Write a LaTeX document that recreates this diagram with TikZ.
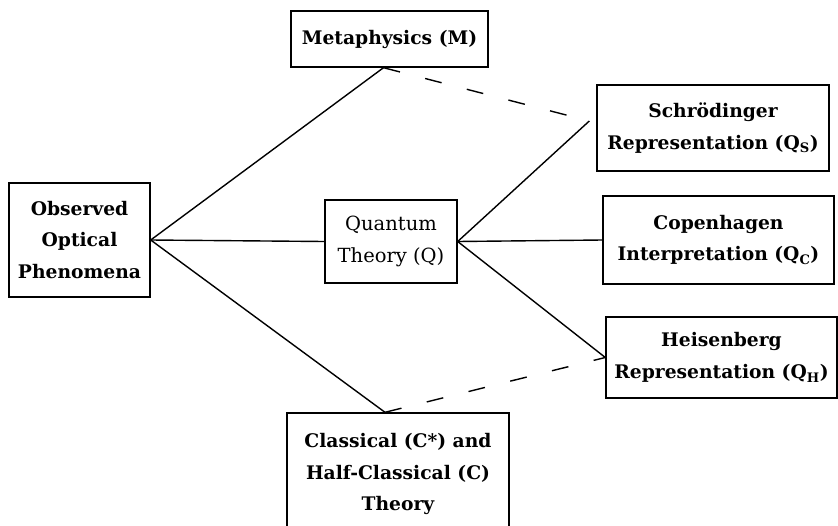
\documentclass[tikz,border=0pt]{standalone}
\usepackage{fontspec}
\setmainfont{DejaVu Serif}
\begin{document}
\begin{tikzpicture}[x=1pt,y=-1pt,
  box/.style={draw,line width=1.4pt,align=center,inner sep=0pt,font=\fontsize{18.7}{31.5}\selectfont\bfseries},
  conn/.style={line width=1.4pt},
  dconn/.style={line width=1.4pt,dash pattern=on 17pt off 26pt}]
\useasboundingbox (0,0) rectangle (838,525);
\begin{scope}
\clip (0,0) rectangle (838,525);
\node[box,minimum width=141pt,minimum height=114pt] (obs) at (79.5,240) {Observed\\Optical\\Phenomena};
\node[box,minimum width=197pt,minimum height=56pt] (meta) at (389.5,39) {Metaphysics (M)};
\node[box,minimum width=132pt,minimum height=83pt,font=\fontsize{19.5}{31.5}\selectfont] (quant) at (391,241.5) {Quantum\\Theory (Q)};
\node[box,minimum width=232pt,minimum height=86pt] (schr) at (713,128) {Schrödinger\\Representation (Q\textsubscript{S})};
\node[box,minimum width=231pt,minimum height=88pt] (cop) at (718.5,240) {Copenhagen\\Interpretation (Q\textsubscript{C})};
\node[box,minimum width=231pt,minimum height=81pt] (heis) at (721.5,357.5) {Heisenberg\\Representation (Q\textsubscript{H})};
\node[box,minimum width=222pt,minimum height=122pt] (class) at (398,474) {Classical (C*) and\\Half-Classical (C)\\Theory};
\end{scope}
\coordinate (mJ) at ([xshift=-6pt]meta.south);
\coordinate (sJ) at ([shift={(-7pt,7pt)}]schr.west);
\coordinate (cJ) at ([xshift=-13pt]class.north);
\draw[conn] (obs.east) -- (mJ);
\draw[conn] (obs.east) -- (quant.west);
\draw[conn] (obs.east) -- (cJ);
\draw[dconn] (mJ) -- (sJ);
\draw[conn] (quant.east) -- (sJ);
\draw[conn] (quant.east) -- (cop.west);
\draw[conn] (quant.east) -- (heis.west);
\draw[dconn] (cJ) -- (heis.west);
\end{tikzpicture}
\end{document}
